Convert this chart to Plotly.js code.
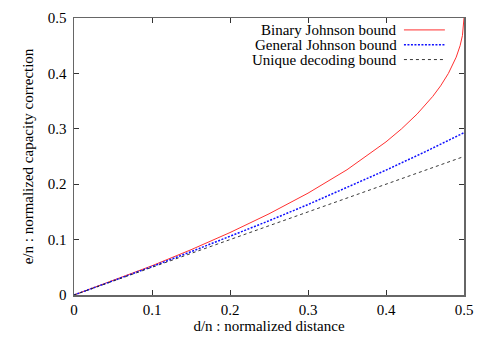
<!DOCTYPE html>
<html>
<head>
<meta charset="utf-8">
<script src="https://cdn.plot.ly/plotly-3.0.1.min.js"></script>
<style>
  html, body { margin: 0; padding: 0; background: #fff; }
  #fig { width: 491px; height: 343px; }
  #fig text { font-family: "Liberation Serif", "Times New Roman", serif !important; }
</style>
</head>
<body>
<div id="fig"></div>
<script>
// values (d/n -> e/n)
var binX = [0, 0.05, 0.1, 0.15, 0.2, 0.25, 0.3, 0.35, 0.4, 0.42, 0.44, 0.46, 0.47, 0.48, 0.49, 0.495, 0.498, 0.5];
var binY = [0, 0.0257, 0.0528, 0.0817, 0.1127, 0.1465, 0.1838, 0.2261, 0.2764, 0.300, 0.3268, 0.3586, 0.3775, 0.400, 0.4293, 0.450, 0.4684, 0.5];

var genX = [0, 0.05, 0.1, 0.15, 0.2, 0.25, 0.3, 0.35, 0.4, 0.45, 0.5];
var genY = [0, 0.0253, 0.0513, 0.0781, 0.1056, 0.1340, 0.1633, 0.1938, 0.2254, 0.2584, 0.2929];

var uniX = [0, 0.1, 0.2, 0.3, 0.4, 0.5];
var uniY = [0, 0.05, 0.10, 0.15, 0.20, 0.25];

var names = ["Binary Johnson bound", "General Johnson bound", "Unique decoding bound"];
var colors = ["#ff3030", "#1010ff", "#222222"];
var dashes = ["solid", "2px,1.5px", "3px,3px"];
var widths = [1, 1.5, 0.9];

var serif = 'Liberation Serif';

var xs = [binX, genX, uniX];
var ys = [binY, genY, uniY];

var series = [];
for (var k = 0; k < 3; k++) {
  series.push({x: xs[k], y: ys[k], mode: 'lines', name: names[k],
               line: {color: colors[k], dash: dashes[k], width: widths[k]},
               hoverinfo: 'skip'});
}

// legend drawn by hand: text right aligned, sample line on the right
var annotations = [], shapes = [];
var legY = [0.957, 0.903, 0.850];
for (var k = 0; k < 3; k++) {
  annotations.push({xref: 'paper', yref: 'paper', x: 0.83, y: legY[k],
                    xanchor: 'right', yanchor: 'middle', showarrow: false, borderpad: 0,
                    text: names[k], font: {family: serif, size: 15, color: '#000'}});
  shapes.push({type: 'line', xref: 'paper', yref: 'paper',
               x0: 0.846, x1: 0.951, y0: legY[k], y1: legY[k],
               line: {color: colors[k], dash: dashes[k], width: widths[k]}});
}

var axis = {
  range: [0, 0.5], dtick: 0.1, tick0: 0,
  ticks: 'inside', ticklen: 5, tickwidth: 1, tickcolor: '#333',
  mirror: 'allticks', showline: true, linecolor: '#666', linewidth: 1.5,
  showgrid: false, zeroline: false, fixedrange: true,
  tickfont: {family: serif, size: 15, color: '#000'}
};

var layout = {
  width: 491, height: 343,
  margin: {l: 74, r: 27, t: 18, b: 48},
  paper_bgcolor: '#fff', plot_bgcolor: '#fff',
  showlegend: false,
  font: {family: serif, size: 15, color: '#000'},
  xaxis: Object.assign({}, axis, {title: {text: 'd/n : normalized distance', standoff: 3,
                                          font: {family: serif, size: 15}}}),
  yaxis: Object.assign({}, axis, {ticklabelstandoff: 3,
                                  title: {text: 'e/n : normalized capacity correction', standoff: 10,
                                          font: {family: serif, size: 15}}}),
  annotations: annotations,
  shapes: shapes
};

Plotly.newPlot('fig', series, layout, {staticPlot: true, displayModeBar: false});
</script>
</body>
</html>
